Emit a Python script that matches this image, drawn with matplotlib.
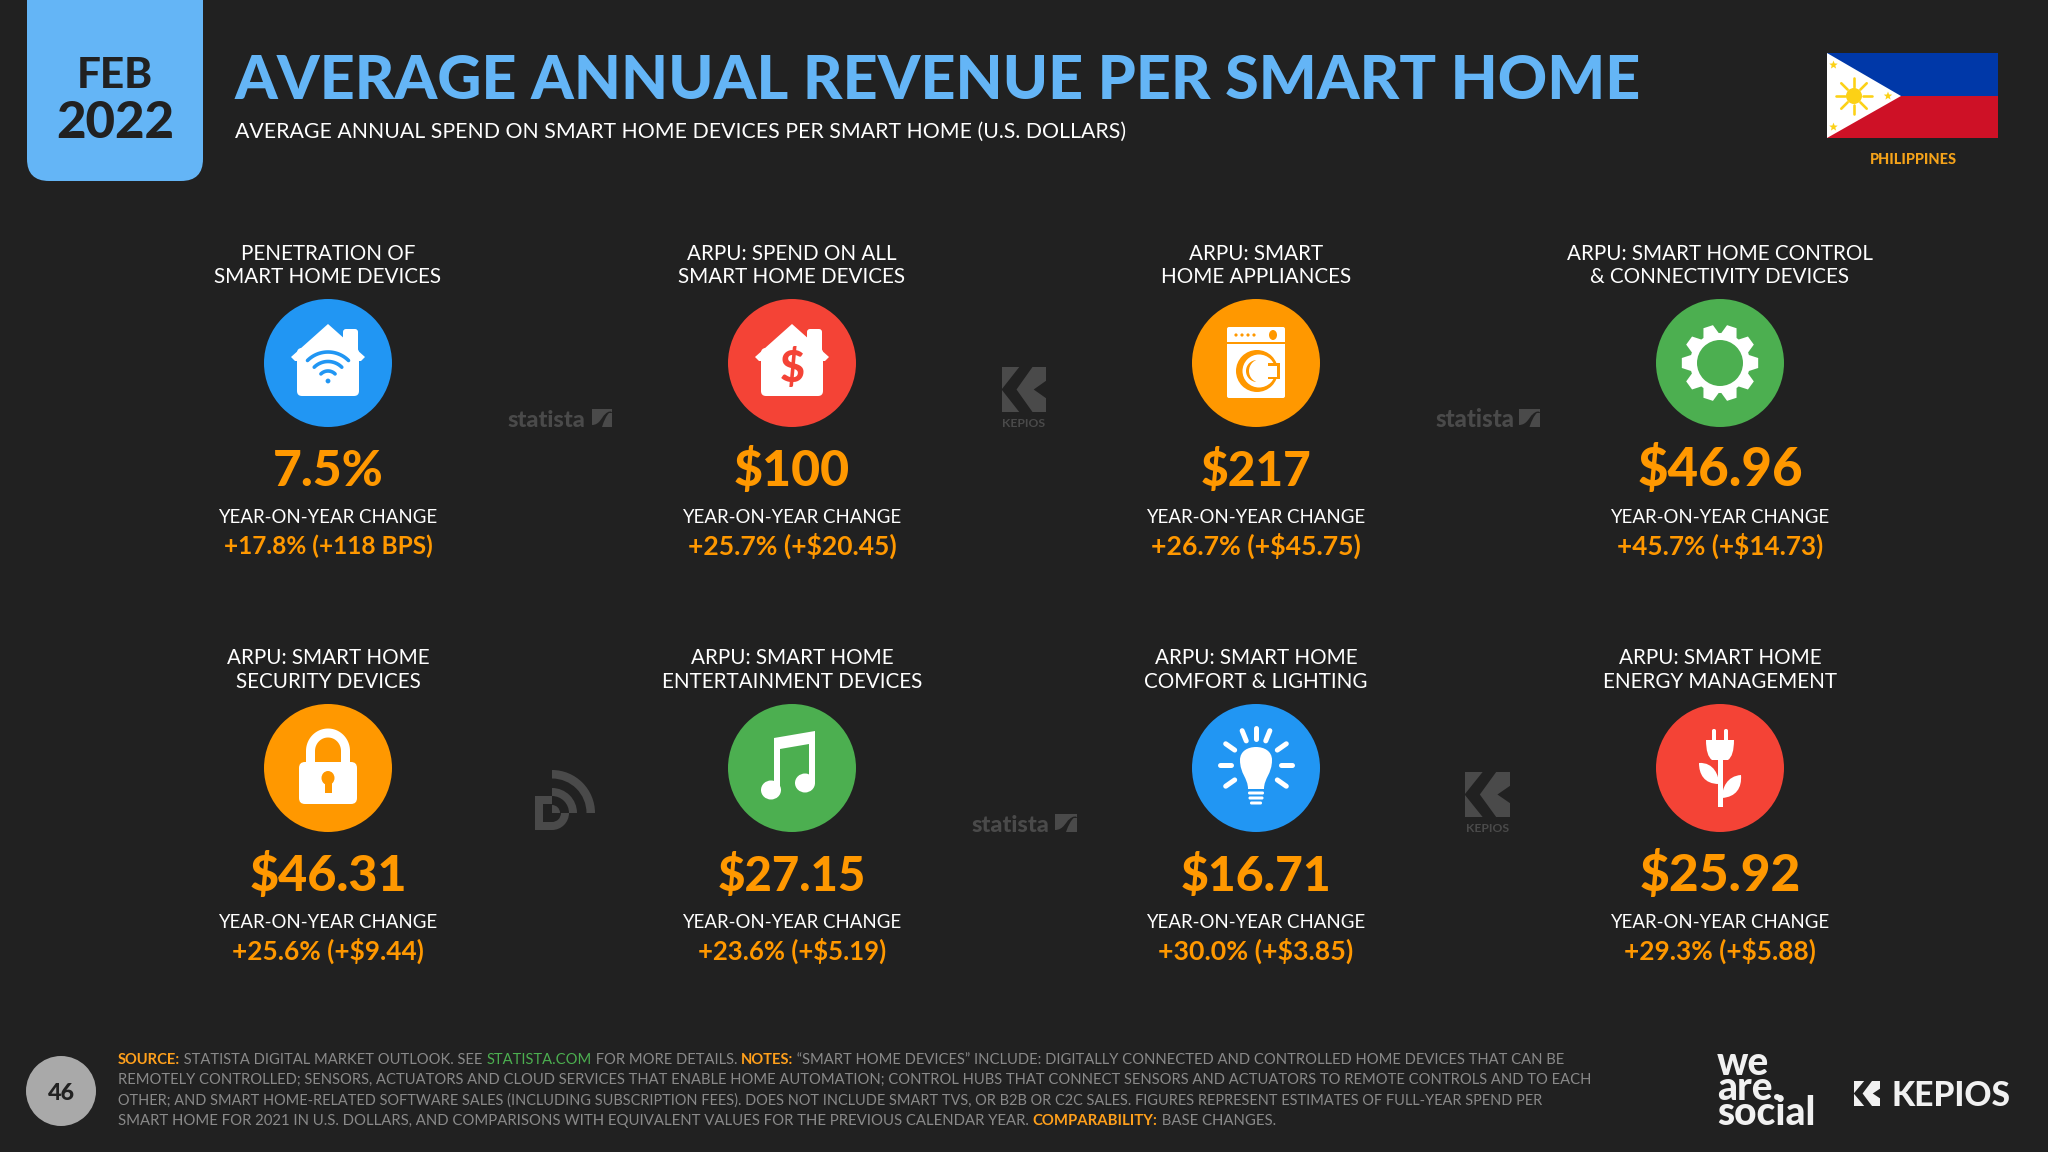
import numpy as np
import matplotlib
matplotlib.use("Agg")
import matplotlib.pyplot as plt
from matplotlib.path import Path
from matplotlib.patches import PathPatch, Circle, Rectangle, Polygon, FancyBboxPatch, Wedge, Ellipse

# ---------- data ----------
metric_labels = [
    ("PENETRATION OF", "SMART HOME DEVICES"),
    ("ARPU: SPEND ON ALL", "SMART HOME DEVICES"),
    ("ARPU: SMART", "HOME APPLIANCES"),
    ("ARPU: SMART HOME CONTROL", "& CONNECTIVITY DEVICES"),
    ("ARPU: SMART HOME", "SECURITY DEVICES"),
    ("ARPU: SMART HOME", "ENTERTAINMENT DEVICES"),
    ("ARPU: SMART HOME", "COMFORT & LIGHTING"),
    ("ARPU: SMART HOME", "ENERGY MANAGEMENT"),
]
metric_values = ["7.5%", "$100", "$217", "$46.96", "$46.31", "$27.15", "$16.71", "$25.92"]
metric_changes = ["+17.8% (+118 BPS)", "+25.7% (+$20.45)", "+26.7% (+$45.75)", "+45.7% (+$14.73)",
                  "+25.6% (+$9.44)", "+23.6% (+$5.19)", "+30.0% (+$3.85)", "+29.3% (+$5.88)"]
yoy_label = "YEAR-ON-YEAR CHANGE"
footer_lines = [
    [("SOURCE:", "o"), (" STATISTA DIGITAL MARKET OUTLOOK. SEE ", "g"), ("STATISTA.COM", "l"),
     (" FOR MORE DETAILS. ", "g"), ("NOTES:", "o"),
     (" \u201cSMART HOME DEVICES\u201d INCLUDE: DIGITALLY CONNECTED AND CONTROLLED HOME DEVICES THAT CAN BE", "g")],
    [("REMOTELY CONTROLLED; SENSORS, ACTUATORS AND CLOUD SERVICES THAT ENABLE HOME AUTOMATION; CONTROL HUBS THAT CONNECT SENSORS AND ACTUATORS TO REMOTE CONTROLS AND TO EACH", "g")],
    [("OTHER; AND SMART HOME-RELATED SOFTWARE SALES (INCLUDING SUBSCRIPTION FEES). DOES NOT INCLUDE SMART TVS, OR B2B OR C2C SALES. FIGURES REPRESENT ESTIMATES OF FULL-YEAR SPEND PER", "g")],
    [("SMART HOME FOR 2021 IN U.S. DOLLARS, AND COMPARISONS WITH EQUIVALENT VALUES FOR THE PREVIOUS CALENDAR YEAR. ", "g"),
     ("COMPARABILITY:", "o"), (" BASE CHANGES.", "g")],
]

# ---------- style and layout ----------
BG = "#212121"; SKY = "#64b5f6"; ORANGE = "#ff9800"; BLUE = "#2196f3"; RED = "#f44336"; GREEN = "#4caf50"
MARK = "#4a4a4a"; WHITE = "#ffffff"
FONT = "Lato"
circle_colors = [BLUE, RED, ORANGE, GREEN, ORANGE, GREEN, BLUE, RED]
COLS = [328, 792, 1256, 1720]
ROW_DY = [0, 405]
value_widths = [111, 116, 111, 166, 158, 148, 151, 161]
change_widths = [209, 209, 210, 206, 192, 188, 195, 192]
footer_widths = [1443, 1470, 1429, 1155]

fig = plt.figure(figsize=(20.48, 11.52), dpi=100, facecolor=BG)
ax = fig.add_axes([0, 0, 1, 1])
ax.set_xlim(0, 2048); ax.set_ylim(1152, 0); ax.axis("off")
renderer = fig.canvas.get_renderer()


def run_width(s, size, wt):
    """Advance of a run; spaces are measured as no-break spaces so that they count."""
    probe = ax.text(0, 0, s.replace(" ", "\u00a0"), fontsize=size, family=FONT, fontweight=wt)
    w = probe.get_window_extent(renderer).width
    probe.remove()
    return w


def best_size(runs, size, width):
    """Size from a fine grid whose measured width lies closest to the target width."""
    grid = size * np.linspace(0.75, 1.25, 101)
    errs = [abs(sum(run_width(s, g, wt) for s, wt in runs) - width) for g in grid]
    return float(grid[int(np.argmin(errs))])


def txt(x, y, s, size=20, color=WHITE, weight="normal", ha="center", width=None, **kw):
    if width is not None:
        size = best_size([(s, weight)], size, width)
    return ax.text(x, y, s, fontsize=size, color=color, fontweight=weight, ha=ha, va="baseline",
                   family=FONT, **kw)


def poly(points, color, z=3):
    ax.add_patch(Polygon(points, closed=True, fc=color, ec="none", zorder=z))


def shape(verts, codes, color, z=3):
    ax.add_patch(PathPatch(Path(verts, codes), fc=color, ec="none", zorder=z))


M, L, C3, C4, Z = Path.MOVETO, Path.LINETO, Path.CURVE3, Path.CURVE4, Path.CLOSEPOLY


def rrect(x0, y0, x1, y1, r, color, z=3):
    ax.add_patch(FancyBboxPatch((x0 + r, y0 + r), x1 - x0 - 2 * r, y1 - y0 - 2 * r,
                                boxstyle=f"round,pad={r},rounding_size={r}", fc=color, ec="none", zorder=z))


def line(xs, ys, color, lw_px, z=4, cap="round"):
    ax.plot(xs, ys, color=color, lw=lw_px * 0.72, solid_capstyle=cap, zorder=z)


def house(cx, cy, bg):
    rrect(cx - 31, cy - 15, cx + 31, cy + 33, 5, WHITE)
    rrect(cx + 15, cy - 34, cx + 30, cy - 5, 3, WHITE)
    poly([(cx, cy - 39), (cx + 37, cy - 6), (cx + 33, cy - 2), (cx - 33, cy - 2), (cx - 37, cy - 6)], WHITE)


def icon_wifi(cx, cy, bg):
    house(cx, cy, bg)
    c = (cx, cy + 18)
    for r in (29, 19.5, 10):
        a = np.radians(np.linspace(-135, -45, 30))
        line(c[0] + r * np.cos(a), c[1] + r * np.sin(a), bg, 3.6)
    ax.add_patch(Circle(c, 2.4, fc=bg, ec="none", zorder=4))


def icon_dollar(cx, cy, bg):
    house(cx, cy, bg)
    ax.text(cx, cy + 19, "$", fontsize=31, color=bg, fontweight="black", ha="center", va="baseline",
            family=FONT, zorder=5)


def icon_washer(cx, cy, bg):
    rrect(cx - 29, cy - 36, cx + 29, cy + 35, 2, WHITE)
    ax.add_patch(Rectangle((cx - 29, cy - 21), 58, 2.4, fc=bg, ec="none", zorder=4))
    for dx in (-20, -14, -8, -2):
        ax.add_patch(Circle((cx + dx, cy - 28), 1.6, fc=bg, ec="none", zorder=4))
    ax.add_patch(Ellipse((cx + 17, cy - 28), 8, 10, fc=bg, ec="none", zorder=4))
    ax.add_patch(Circle((cx + 1, cy + 8), 21, fc=bg, ec="none", zorder=4))
    ax.add_patch(Circle((cx + 3, cy + 8), 16.5, fc=WHITE, ec="none", zorder=4))
    ax.add_patch(Circle((cx + 1, cy + 8), 11, fc=bg, ec="none", zorder=4))
    ax.add_patch(Circle((cx + 5, cy + 8), 12, fc=WHITE, ec="none", zorder=4))
    ax.add_patch(Rectangle((cx + 12, cy), 12, 16, fc=bg, ec="none", zorder=4))
    ax.add_patch(Rectangle((cx + 12, cy + 2.5), 8.5, 11, fc=WHITE, ec="none", zorder=4))


def icon_gear(cx, cy, bg):
    n = 10
    pts = []
    for i in range(n):
        a0 = 2 * np.pi * i / n
        for da, r in ((-0.27, 30), (-0.13, 38.5), (0.13, 38.5), (0.27, 30)):
            pts.append((cx + r * np.cos(a0 + da), cy + r * np.sin(a0 + da)))
    poly(pts, WHITE)
    ax.add_patch(Circle((cx, cy), 23, fc=bg, ec="none", zorder=4))


def icon_lock(cx, cy, bg):
    rrect(cx - 29, cy - 6, cx + 29, cy + 36, 6, WHITE)
    a = np.radians(np.linspace(180, 360, 40))
    xs = np.r_[cx - 17.5, cx + 17.5 * np.cos(a), cx + 17.5]
    ys = np.r_[cy + 2, cy - 17 + 18 * np.sin(a), cy + 2]
    line(xs, ys, WHITE, 9, z=3, cap="butt")
    ax.add_patch(Ellipse((cx, cy + 10), 13, 14, fc=bg, ec="none", zorder=4))
    poly([(cx - 3.5, cy + 12), (cx + 3.5, cy + 12), (cx + 3.5, cy + 25), (cx - 3.5, cy + 25)], bg, z=4)


def icon_note(cx, cy, bg):
    ax.add_patch(Ellipse((cx - 21, cy + 22), 20, 19, fc=WHITE, ec="none", zorder=3))
    ax.add_patch(Ellipse((cx + 13, cy + 15), 20, 19, fc=WHITE, ec="none", zorder=3))
    poly([(cx - 18, cy - 30), (cx + 23, cy - 37), (cx + 23, cy + 15), (cx + 17, cy + 15),
          (cx + 17, cy - 24), (cx - 12, cy - 19), (cx - 12, cy + 22), (cx - 18, cy + 22)], WHITE)


def icon_bulb(cx, cy, bg):
    verts = [(cx - 8, cy + 21), (cx - 8, cy + 10), (cx - 16, cy + 6), (cx - 16, cy - 8),
             (cx - 16, cy - 17), (cx - 8, cy - 21), (cx, cy - 21),
             (cx + 8, cy - 21), (cx + 16, cy - 17), (cx + 16, cy - 8),
             (cx + 16, cy + 6), (cx + 8, cy + 10), (cx + 8, cy + 21), (cx - 8, cy + 21)]
    shape(verts, [M, C4, C4, C4, C4, C4, C4, C4, C4, C4, C4, C4, C4, Z], WHITE)
    for y0, hw in ((25, 8), (30, 7.5), (35, 6)):
        rrect(cx - hw, cy + y0 - 1.5, cx + hw, cy + y0 + 1.5, 1.4, WHITE)
    for deg in (180, 0, 90, 112, 68, 145, 35, 215, -35):
        a = np.radians(deg)
        r0, r1 = (25, 36) if deg in (0, 180) else (26, 37)
        line([cx + r0 * np.cos(a), cx + r1 * np.cos(a)], [cy - 3 - r0 * np.sin(a), cy - 3 - r1 * np.sin(a)], WHITE, 5)


def icon_plug(cx, cy, bg):
    rrect(cx - 8, cy - 39, cx - 4, cy - 24, 1.8, WHITE)
    rrect(cx + 4, cy - 39, cx + 8, cy - 24, 1.8, WHITE)
    shape([(cx - 14, cy - 28), (cx + 14, cy - 28), (cx + 14, cy - 12), (cx + 8, cy - 8), (cx, cy - 8),
           (cx - 8, cy - 8), (cx - 14, cy - 12), (cx - 14, cy - 28), (cx - 14, cy - 28)],
          [M, L, C3, C3, C3, C3, C3, L, Z], WHITE)
    ax.add_patch(Rectangle((cx - 2.5, cy - 10), 5, 49, fc=WHITE, ec="none", zorder=3))
    shape([(cx - 21, cy - 5), (cx - 6, cy - 6), (cx - 1, cy + 8), (cx - 1, cy + 16),
           (cx - 16, cy + 16), (cx - 21, cy + 6), (cx - 21, cy - 5)],
          [M, C4, C4, C4, C4, C4, C4], WHITE)
    shape([(cx + 21, cy + 7), (cx + 7, cy + 8), (cx + 2, cy + 20), (cx + 2, cy + 30),
           (cx + 16, cy + 29), (cx + 22, cy + 20), (cx + 21, cy + 7)],
          [M, C4, C4, C4, C4, C4, C4], WHITE)


icons = [icon_wifi, icon_dollar, icon_washer, icon_gear, icon_lock, icon_note, icon_bulb, icon_plug]


def kepios_k(x0, y0, x1, y1, color, bg):
    """Square K mark: a light square with a dark chevron band and a notch on the right."""
    w, h = x1 - x0, y1 - y0
    P = lambda u, v: (x0 + u * w, y0 + v * h)
    poly([P(0, 0), P(1, 0), P(1, 1), P(0, 1)], color)
    poly([P(.40, -.01), P(.70, -.01), P(.33, .5), P(.70, 1.01), P(.40, 1.01), P(-.01, .5)], bg)
    poly([P(1.01, .30), P(.72, .5), P(1.01, .70)], bg)


def statista(x0, x1, bx0, bx1, y0, y1):
    txt(x0, y1 - 1, "statista", 20, MARK, "black", ha="left", width=x1 - x0)
    ax.add_patch(Rectangle((bx0, y0 + 2), bx1 - bx0, y1 - y0 - 3, fc=MARK, ec="none", zorder=3))
    w, h = bx1 - bx0, y1 - y0 - 3
    shape([(bx0, y1 - 3), (bx0 + .4 * w, y1 - 3), (bx0 + .5 * w, y0 + 2 + .4 * h), (bx0 + .65 * w, y0 + 2 + .3 * h),
           (bx0 + .8 * w, y0 + 2 + .1 * h), (bx1, y0 + 2 + .1 * h), (bx1, y0 + 2 + .22 * h),
           (bx0 + .85 * w, y0 + 2 + .22 * h), (bx0 + .7 * w, y0 + 2 + .4 * h), (bx0 + .62 * w, y0 + 2 + .6 * h),
           (bx0 + .5 * w, y1 - 1), (bx0 + .3 * w, y1 - 1), (bx0, y1 - 1), (bx0, y1 - 1)],
          [M, C4, C4, C4, C4, C4, C4, L, C4, C4, C4, C4, C4, L], BG, z=4)


# ---------- header ----------
ax.add_patch(FancyBboxPatch((49, -40), 132, 199, boxstyle="round,pad=22,rounding_size=22",
                            fc=SKY, ec="none", zorder=1))
txt(115, 88, "FEB", 34, BG, "black", width=76, zorder=2)
txt(115, 138, "2022", 34, BG, "black", width=118, zorder=2)
txt(235, 99, "AVERAGE ANNUAL REVENUE PER SMART HOME", 46, SKY, "black", ha="left", width=1409)
txt(235, 138, "AVERAGE ANNUAL SPEND ON SMART HOME DEVICES PER SMART HOME (U.S. DOLLARS)", 16.5, WHITE,
    "normal", ha="left", width=888)

# flag
ax.add_patch(Rectangle((1827, 53), 171, 43, fc="#0038a8", ec="none"))
ax.add_patch(Rectangle((1827, 96), 171, 42, fc="#ce1126", ec="none"))
poly([(1827, 53), (1901, 96), (1827, 138)], WHITE)
SUN = "#fcd116"
ax.add_patch(Circle((1854, 96), 8, fc=SUN, ec="none", zorder=4))
for k in range(8):
    a = k * np.pi / 4
    line([1854 + 9 * np.cos(a), 1854 + 18 * np.cos(a)], [96 + 9 * np.sin(a), 96 + 18 * np.sin(a)], SUN, 2.6)
for sx, sy in ((1833.5, 65), (1888, 96), (1833.5, 127)):
    ang = np.radians(np.arange(10) * 36 - 90)
    rad = np.where(np.arange(10) % 2 == 0, 4.4, 1.9)
    poly(np.c_[sx + rad * np.cos(ang), sy + rad * np.sin(ang)], SUN, z=4)
txt(1913, 163.5, "PHILIPPINES", 11, "#f5a31a", "black", width=87)

# ---------- metric grid ----------
label_size = best_size([("SMART HOME DEVICES", "normal")], 14.8, 227)
yoy_size = best_size([(yoy_label, "normal")], 13.2, 219)
for i in range(8):
    cx = COLS[i % 4]
    dy = ROW_DY[i // 4]
    bg = circle_colors[i]
    txt(cx, 259.5 + dy, metric_labels[i][0], label_size, WHITE)
    txt(cx, 283 + dy, metric_labels[i][1], label_size, WHITE)
    cy = 363 + dy
    ax.add_patch(Circle((cx, cy), 64, fc=bg, ec="none", zorder=2))
    icons[i](cx, cy, bg)
    txt(cx, 486 + dy, metric_values[i], 36, ORANGE, "black", width=value_widths[i])
    txt(cx, 523 + dy, yoy_label, yoy_size, WHITE)
    txt(cx, 554.5 + dy, metric_changes[i], 18, ORANGE, "bold", width=change_widths[i])

# ---------- watermarks ----------
statista(508, 586, 592, 612, 407, 428)
statista(1436, 1515, 1519, 1540, 407, 428)
statista(972, 1050, 1055, 1077, 812, 833)
kepios_k(1002, 367, 1046, 412, MARK, BG)
txt(1024, 427, "KEPIOS", 7, MARK, "bold", width=44)
kepios_k(1465, 772, 1510, 817, MARK, BG)
txt(1487.5, 832, "KEPIOS", 7, MARK, "bold", width=44)
# data-reportal mark: two arcs over a D
DX, DY = 552, 813
ax.add_patch(Wedge((DX, DY), 43, -90, 0, width=8.5, fc=MARK, ec="none"))
ax.add_patch(Wedge((DX, DY), 25, -90, 0, width=8, fc=MARK, ec="none"))
ax.add_patch(Wedge((DX, DY), 8, -90, 0, fc=MARK, ec="none"))
ax.add_patch(Wedge((DX, DY), 17, 0, 90, width=8, fc=MARK, ec="none"))
ax.add_patch(Rectangle((535, 796), 8, 34, fc=MARK, ec="none"))
ax.add_patch(Rectangle((535, 796), 17, 8, fc=MARK, ec="none"))
ax.add_patch(Rectangle((535, 822), 17, 8, fc=MARK, ec="none"))

# ---------- footer ----------
ax.add_patch(Circle((61, 1091), 35, fc="#a9a9a9", ec="none"))
txt(61, 1100, "46", 18, BG, "black", width=27)
FOOT_COL = {"g": "#8a8a8a", "o": "#ffa01c", "l": "#4caf50"}

for ln, runs in enumerate(footer_lines):
    y = 1064 + 20.3 * ln
    weights = ["bold" if k == "o" else "normal" for _, k in runs]
    size = best_size([(s, w) for (s, _), w in zip(runs, weights)], 10.0, footer_widths[ln])
    x = 118
    for (s, kind), wt in zip(runs, weights):
        ax.text(x, y, s.replace(" ", "\u00a0"), fontsize=size, color=FOOT_COL[kind], fontweight=wt, family=FONT,
                ha="left", va="baseline")
        x += run_width(s, size, wt)

# brand marks
LOGO = "#f1f1f1"
ax.text(1717, 1125, "we\nare.\nsocial", fontsize=28, color=LOGO, fontweight="black", family=FONT,
        ha="left", va="baseline", linespacing=0.6)
kepios_k(1854, 1081, 1880, 1106, LOGO, BG)
txt(1892, 1106, "KEPIOS", 25, LOGO, "black", ha="left", width=119)

fig.savefig("out.png", dpi=100, facecolor=BG)
